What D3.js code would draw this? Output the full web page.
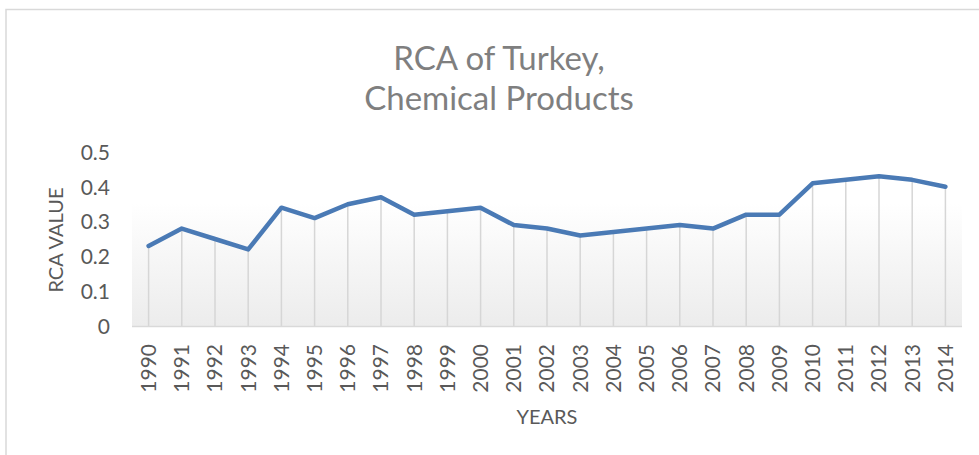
<!DOCTYPE html>
<html><head><meta charset="utf-8">
<script src="https://cdn.jsdelivr.net/npm/d3@7"></script>
<style>body{margin:0;background:#fff}svg{display:block}</style>
</head><body>
<script>
const years = ["1990","1991","1992","1993","1994","1995","1996","1997","1998","1999","2000","2001","2002","2003","2004","2005","2006","2007","2008","2009","2010","2011","2012","2013","2014"];
const rcaValues = [0.23,0.28,0.25,0.22,0.34,0.31,0.35,0.37,0.32,0.33,0.34,0.29,0.28,0.26,0.27,0.28,0.29,0.28,0.32,0.32,0.41,0.42,0.43,0.42,0.40];
const yTicks = [0,0.1,0.2,0.3,0.4,0.5];
const titleLines = ["RCA of Turkey,","Chemical Products"];

const W = 979, H = 455;
const m = {left:132, right:17, top:152, bottom:129};
const svg = d3.select("body").append("svg").attr("width",W).attr("height",H);
const font = "Lato, 'Open Sans', sans-serif";

// frame
svg.append("path").attr("d",`M6,${H} V9.5 H${W}`).attr("fill","none").attr("stroke","#d9d9d9").attr("stroke-width",1.5);

const x = d3.scaleBand().domain(years).range([m.left, W-m.right]);
const y = d3.scaleLinear().domain([0,0.5]).range([H-m.bottom, m.top]);

const defs = svg.append("defs");
const g = defs.append("linearGradient").attr("id","bg").attr("x1",0).attr("y1",0).attr("x2",0).attr("y2",1);
g.append("stop").attr("offset","0%").attr("stop-color","#ffffff");
g.append("stop").attr("offset","100%").attr("stop-color","#ececec");

svg.append("rect").attr("x",m.left).attr("y",y(0.353)).attr("width",W-m.right-m.left)
  .attr("height",y(0)-y(0.353)).attr("fill","url(#bg)");

// title
svg.append("text").attr("text-anchor","middle")
  .attr("font-family",font).attr("font-size",33).attr("fill","#7f7f7f")
  .selectAll("tspan").data(titleLines).join("tspan")
  .attr("x",499).attr("y",(d,i)=>70+i*40).text(d=>d);

// drop lines
svg.append("g").selectAll("line").data(years).join("line")
  .attr("x1",d=>x(d)+x.bandwidth()/2).attr("x2",d=>x(d)+x.bandwidth()/2)
  .attr("y1",(d,i)=>y(rcaValues[i])).attr("y2",y(0))
  .attr("stroke","#d6d6d6").attr("stroke-width",1.5);

// baseline
svg.append("line").attr("x1",m.left).attr("x2",W-m.right).attr("y1",y(0)+0.5).attr("y2",y(0)+0.5)
  .attr("stroke","#d9d9d9").attr("stroke-width",1.5);

// y axis
const ya = svg.append("g").attr("transform",`translate(${110},0)`)
  .call(d3.axisLeft(y).tickValues(yTicks).tickSize(0).tickPadding(0).tickFormat(d=>d===0?"0":d3.format(".1f")(d)));
ya.select(".domain").remove();
ya.selectAll("text").attr("font-family",font).attr("font-size",21).attr("fill","#595959").attr("dy","0.35em");

// x axis
const xa = svg.append("g").attr("transform",`translate(0,${y(0)})`)
  .call(d3.axisBottom(x).tickSize(0).tickPadding(0));
xa.select(".domain").remove();
xa.selectAll("text").attr("font-family",font).attr("font-size",21).attr("fill","#595959")
  .attr("transform","rotate(-90)").attr("text-anchor","end").attr("x",-18).attr("y",0).attr("dy","0.35em");

// axis titles
svg.append("text").attr("transform",`translate(63,240) rotate(-90)`).attr("text-anchor","middle")
  .attr("font-family",font).attr("font-size",20).attr("fill","#595959").text("RCA VALUE");
svg.append("text").attr("x",547).attr("y",424).attr("text-anchor","middle")
  .attr("font-family",font).attr("font-size",20).attr("fill","#595959").text("YEARS");

// line
const line = d3.line().x((d,i)=>x(years[i])+x.bandwidth()/2).y(d=>y(d));
svg.append("path").datum(rcaValues).attr("d",line).attr("fill","none")
  .attr("stroke","#4a7ab5").attr("stroke-width",4.5).attr("stroke-linejoin","round").attr("stroke-linecap","round");
</script>
</body></html>
